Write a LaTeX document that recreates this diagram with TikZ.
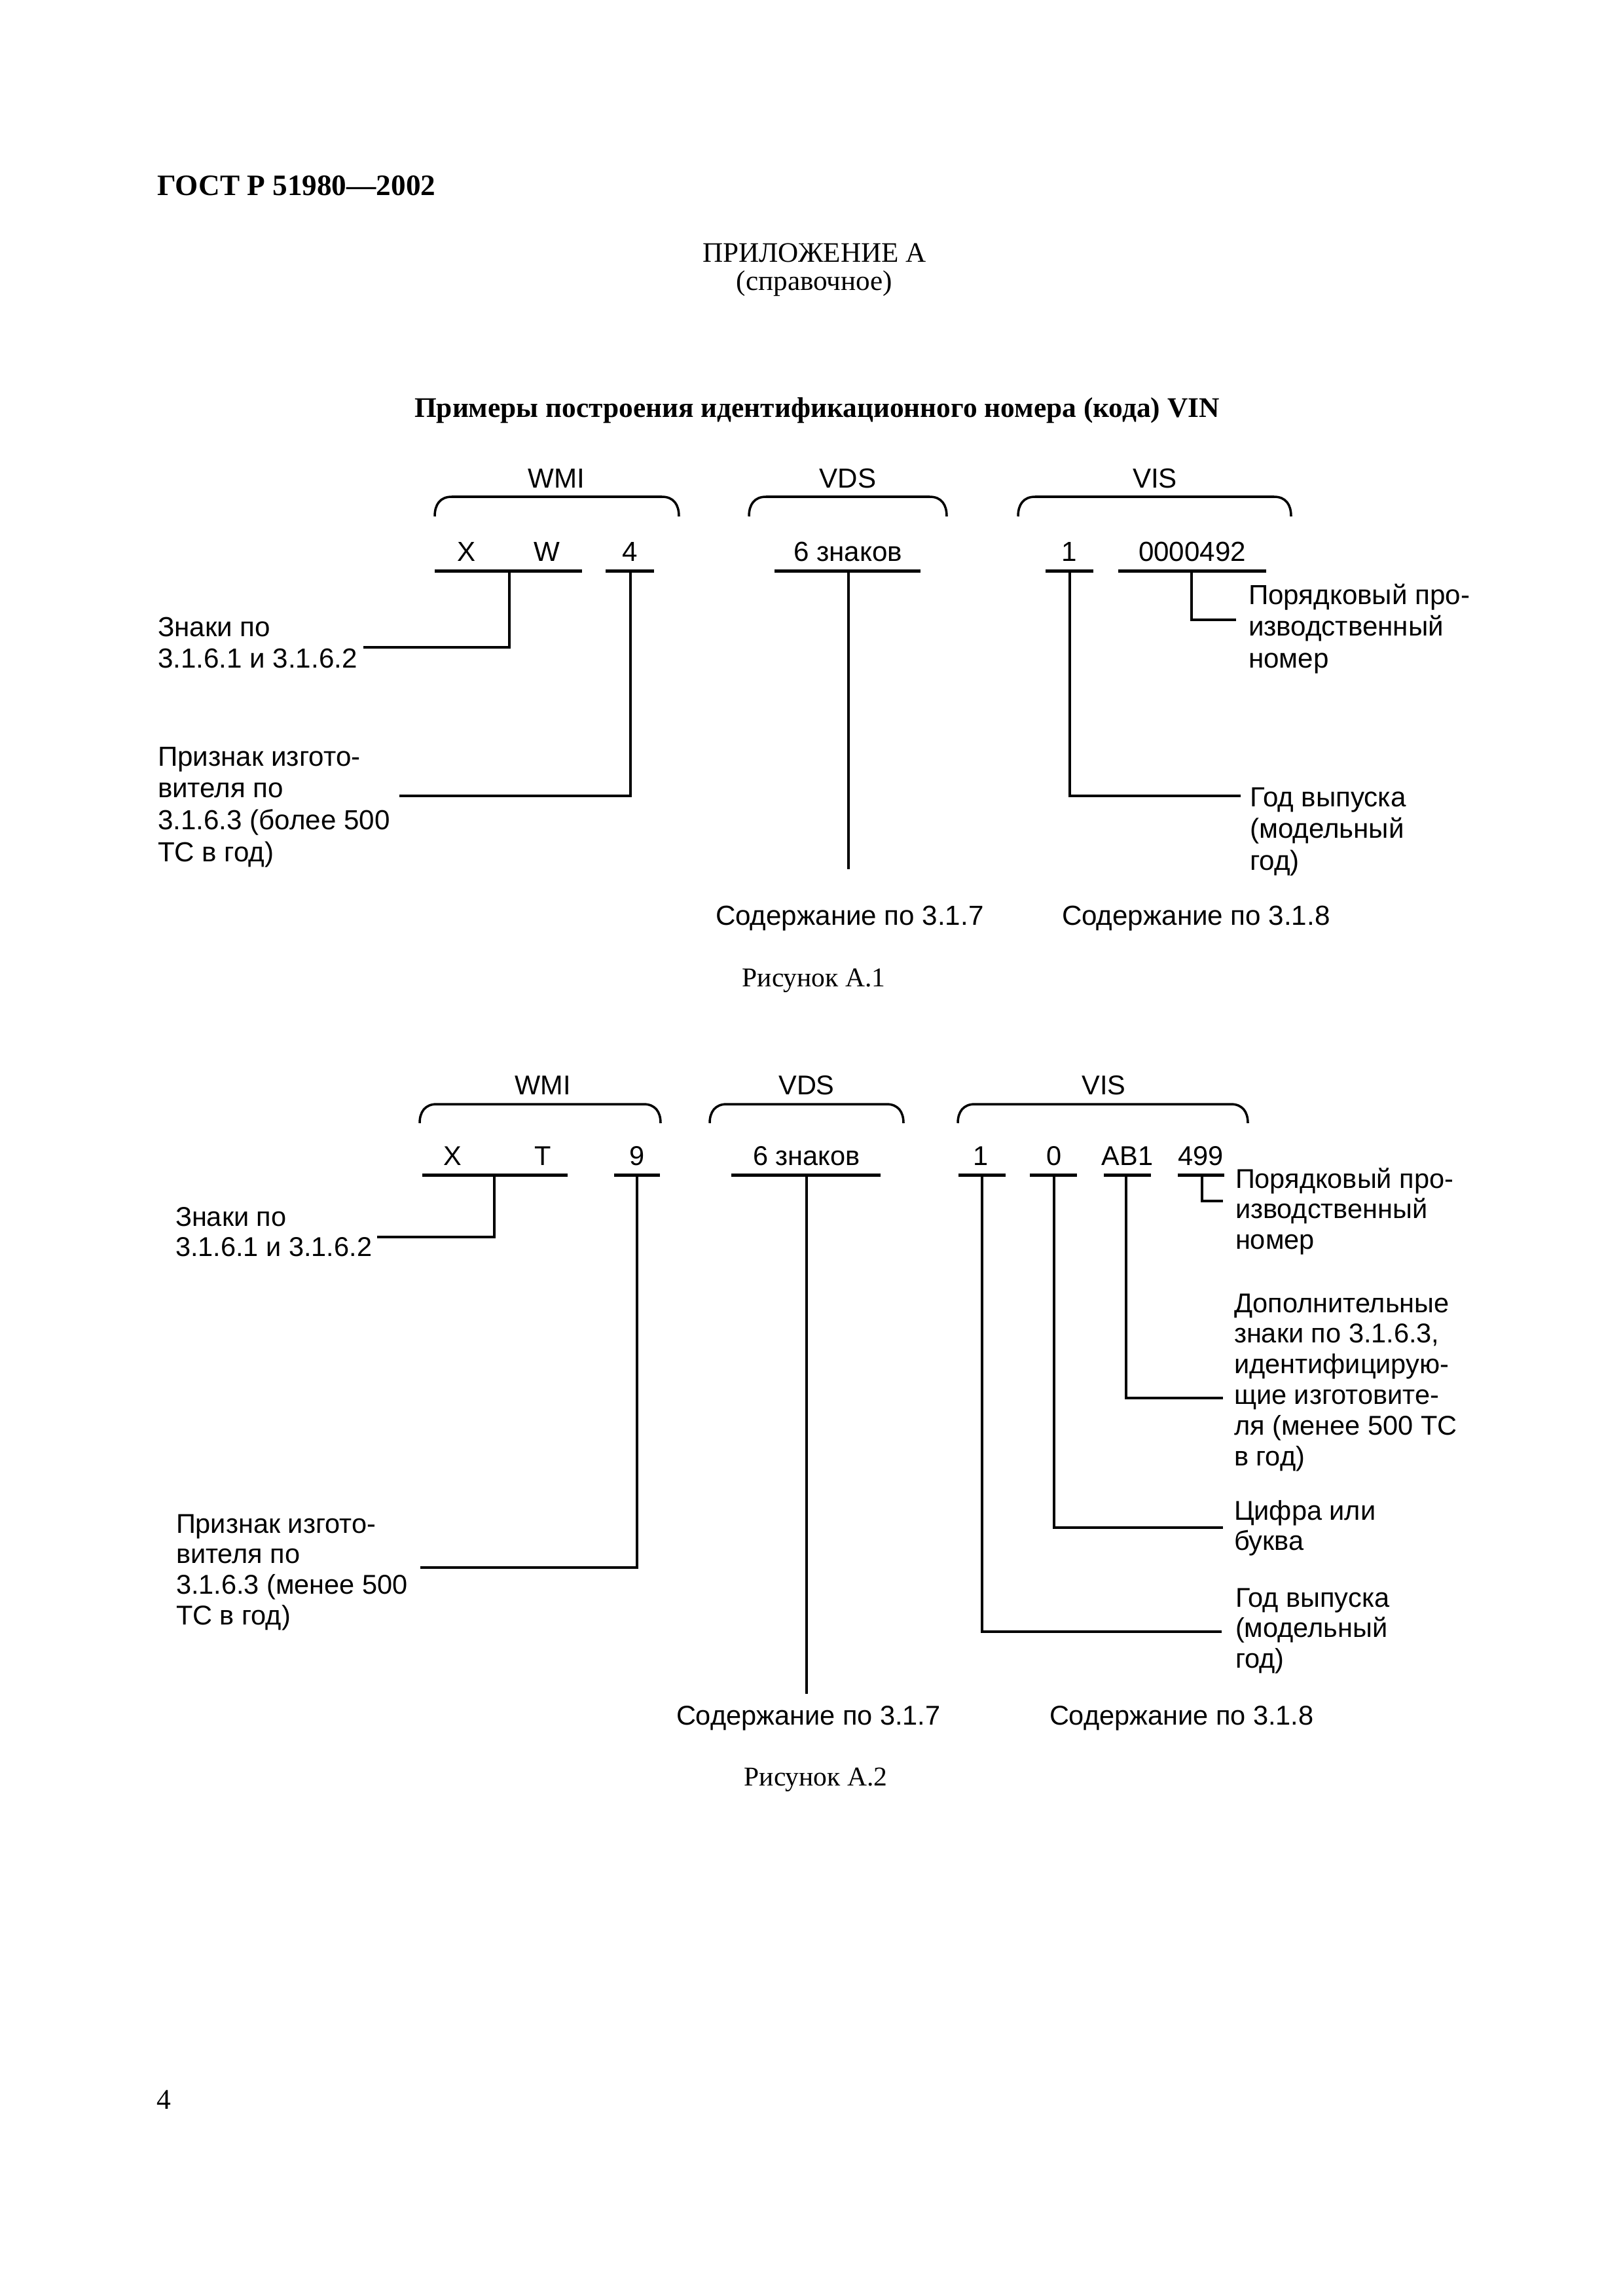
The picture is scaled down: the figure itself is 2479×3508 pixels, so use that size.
\documentclass[tikz,border=0pt]{standalone}
\usepackage{fontspec}
\setmainfont{Liberation Serif}
\newfontfamily\sansf{Liberation Sans}
\newcommand\mylines[1]{\begin{tabular}[t]{@{}l@{}}#1\end{tabular}}
\newcommand\mybrace[4]{\draw[brc] (#1,#4) .. controls (#1,{#3+12}) and ({#1+8},#3) .. ({#1+26},#3) -- ({#2-26},#3) .. controls ({#2-8},#3) and (#2,{#3+12}) .. (#2,#4);}
\begin{document}
\begin{tikzpicture}[x=0.084664mm,y=-0.084664mm,
  every node/.style={inner sep=0pt, outer sep=0pt},
  fa/.style={font=\sansf\fontsize{10.15}{11.8}\selectfont},
  fb/.style={font=\sansf\fontsize{10}{11.3}\selectfont},
  lab/.style={anchor=base west},
  chr/.style={anchor=base},
  ser/.style={font=\fontsize{10.4}{12}\selectfont, anchor=base},
  uline/.style={line width=1.2pt},
  lead/.style={line width=1pt},
  thinl/.style={line width=0.75pt},
  brc/.style={line width=0.85pt},
]
\fill[white] (0,0) rectangle (2479,3508);
\useasboundingbox (0,0) rectangle (2479,3508);

% ---------- header ----------
\node[font=\bfseries\fontsize{10.9}{13}\selectfont, anchor=base west] (gost) at (240,298) {ГОСТ Р 51980—2002};
\node[ser] (pril) at (1244,400) {ПРИЛОЖЕНИЕ А};
\node[ser] (sprav) at (1244,443) {(справочное)};
\node[font=\bfseries\fontsize{10.45}{13}\selectfont, anchor=base] (title) at (1248,637) {Примеры построения идентификационного номера (кода) VIN};

% ---------- Figure A.1 ----------
\node[fa,chr] (wmiA) at (850,745) {WMI};
\node[fa,chr] (vdsA) at (1295,745) {VDS};
\node[fa,chr] (visA) at (1764,745) {VIS};
\mybrace{664}{1037}{759}{789}
\mybrace{1144}{1446}{759}{789}
\mybrace{1555}{1972}{759}{789}

\node[fa,chr] (xA) at (713,857) {X};
\node[fa,chr] (wA) at (835,857) {W};
\node[fa,chr] (fA) at (962,857) {4};
\node[fa,chr] (sA) at (1295,857) {6 знаков};
\node[fa,chr] (oA) at (1633,857) {1};
\node[fa,chr] (nA) at (1821,857) {0000492};

\draw[uline] (664,872) -- (889,872);
\draw[uline] (925,872) -- (999,872);
\draw[uline] (1183,872) -- (1406,872);
\draw[uline] (1597,872) -- (1670,872);
\draw[uline] (1708,872) -- (1934,872);

\node[fa,lab] (lZA) at (241,972) {\mylines{Знаки по\\3.1.6.1 и 3.1.6.2}};
\node[fa,lab] (lPA) at (241,1170) {\mylines{Признак изгото-\\вителя по\\3.1.6.3 (более 500\\ТС в год)}};
\node[fa,lab] (lNA) at (1907,923) {\mylines{Порядковый про-\\изводственный\\номер}};
\node[fa,lab] (lGA) at (1909,1232) {\mylines{Год выпуска\\(модельный\\год)}};
\node[fa,lab] (lS7A) at (1093,1413) {Содержание по 3.1.7};
\node[fa,lab] (lS8A) at (1622,1413) {Содержание по 3.1.8};

\coordinate (pXWA) at (778,872);  \coordinate (eXWA) at (555,989);
\coordinate (p4A) at (963,872);   \coordinate (e4A) at (610,1216);
\coordinate (pSA) at (1296,872);  \coordinate (eSA) at (1296,1328);
\coordinate (p1A) at (1634,872);  \coordinate (e1A) at (1895,1216);
\coordinate (pNA) at (1820,872);  \coordinate (eNA) at (1888,947);
\draw[lead] (pXWA) |- (eXWA);
\draw[lead] (p4A) |- (e4A);
\draw[thinl] (pSA) -- (eSA);
\draw[lead] (p1A) |- (e1A);
\draw[lead] (pNA) |- (eNA);

\node[font=\fontsize{10}{12}\selectfont, anchor=base] (capA) at (1243,1507) {Рисунок А.1};

% ---------- Figure A.2 ----------
\node[fb,chr] (wmiB) at (829,1672) {WMI};
\node[fb,chr] (vdsB) at (1232,1672) {VDS};
\node[fb,chr] (visB) at (1686,1672) {VIS};
\mybrace{641}{1009}{1687}{1716}
\mybrace{1084}{1380}{1687}{1716}
\mybrace{1463}{1906}{1687}{1716}

\node[fb,chr] (xB) at (691,1780) {X};
\node[fb,chr] (tB) at (829,1780) {T};
\node[fb,chr] (nineB) at (973,1780) {9};
\node[fb,chr] (sB) at (1232,1780) {6 знаков};
\node[fb,chr] (oB) at (1498,1780) {1};
\node[fb,chr] (zB) at (1610,1780) {0};
\node[fb,chr] (abB) at (1722,1780) {AB1};
\node[fb,chr] (qB) at (1834,1780) {499};

\draw[uline] (645,1795) -- (867,1795);
\draw[uline] (938,1795) -- (1008,1795);
\draw[uline] (1117,1795) -- (1345,1795);
\draw[uline] (1464,1795) -- (1536,1795);
\draw[uline] (1573,1795) -- (1645,1795);
\draw[uline] (1686,1795) -- (1758,1795);
\draw[uline] (1799,1795) -- (1870,1795);

\node[fb,lab] (lZB) at (268,1873) {\mylines{Знаки по\\3.1.6.1 и 3.1.6.2}};
\node[fb,lab] (lPB) at (269,2342) {\mylines{Признак изгото-\\вителя по\\3.1.6.3 (менее 500\\ТС в год)}};
\node[fb,lab] (lNB) at (1887,1815) {\mylines{Порядковый про-\\изводственный\\номер}};
\node[fb,lab] (lDB) at (1885,2005) {\mylines{Дополнительные\\знаки по 3.1.6.3,\\идентифицирую-\\щие изготовите-\\ля (менее 500 ТС\\в год)}};
\node[fb,lab] (lCB) at (1885,2322) {\mylines{Цифра или\\буква}};
\node[fb,lab] (lGB) at (1887,2455) {\mylines{Год выпуска\\(модельный\\год)}};
\node[fb,lab] (lS7B) at (1033,2635) {Содержание по 3.1.7};
\node[fb,lab] (lS8B) at (1603,2635) {Содержание по 3.1.8};

\coordinate (pXTB) at (755,1795);  \coordinate (eXTB) at (576,1890);
\coordinate (p9B) at (973,1795);   \coordinate (e9B) at (642,2395);
\coordinate (pSB) at (1232,1795);  \coordinate (eSB) at (1232,2588);
\coordinate (p1B) at (1500,1795);  \coordinate (e1B) at (1866,2493);
\coordinate (p0B) at (1610,1795);  \coordinate (e0B) at (1868,2334);
\coordinate (pABB) at (1720,1795); \coordinate (eABB) at (1868,2136);
\coordinate (pQB) at (1836,1795);  \coordinate (eQB) at (1868,1835);
\draw[lead] (pXTB) |- (eXTB);
\draw[lead] (p9B) |- (e9B);
\draw[thinl] (pSB) -- (eSB);
\draw[lead] (p1B) |- (e1B);
\draw[lead] (p0B) |- (e0B);
\draw[lead] (pABB) |- (eABB);
\draw[lead] (pQB) |- (eQB);

\node[font=\fontsize{10}{12}\selectfont, anchor=base] (capB) at (1246,2728) {Рисунок А.2};

% ---------- page number ----------
\node[font=\fontsize{10.5}{12}\selectfont, anchor=base west] (page) at (239,3222) {4};
\end{tikzpicture}
\end{document}
